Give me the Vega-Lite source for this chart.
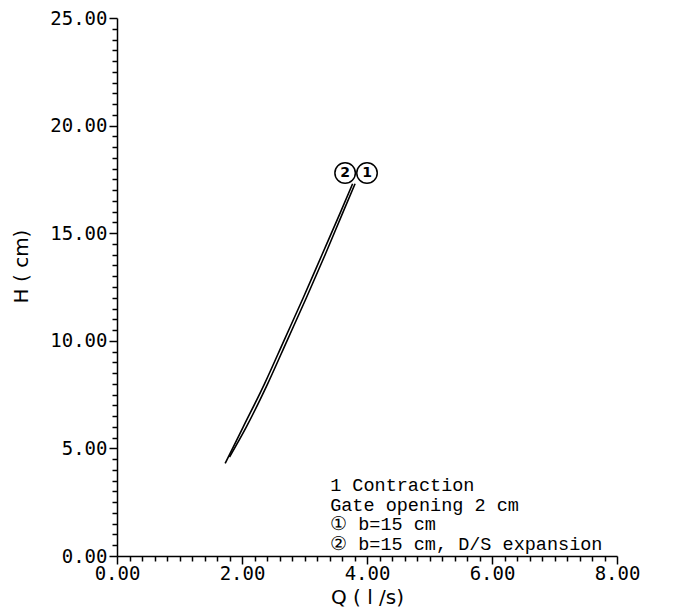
{
  "$schema": "https://vega.github.io/schema/vega-lite/v6.json",
  "width": 500,
  "height": 538,
  "autosize": {"type": "none"},
  "padding": {"left": 117, "top": 18, "right": 74, "bottom": 53},
  "background": "white",
  "config": {
    "view": {"stroke": null},
    "axis": {"grid": false, "domainColor": "black", "tickColor": "black", "labelColor": "black", "titleColor": "black", "labelFont": "DejaVu Sans Mono", "titleFont": "DejaVu Sans", "labelFontSize": 19, "titleFontSize": 20, "titleFontWeight": "normal", "domainWidth": 1.5, "tickWidth": 1.5, "tickCount": 500}
  },
  "datasets": {
    "curves": [
      {"Q": 1.80, "H": 4.6, "curve": "1"},
      {"Q": 2.07, "H": 6.0, "curve": "1"},
      {"Q": 2.41, "H": 8.0, "curve": "1"},
      {"Q": 2.72, "H": 10.0, "curve": "1"},
      {"Q": 3.03, "H": 12.0, "curve": "1"},
      {"Q": 3.33, "H": 14.0, "curve": "1"},
      {"Q": 3.62, "H": 16.0, "curve": "1"},
      {"Q": 3.81, "H": 17.3, "curve": "1"},
      {"Q": 1.73, "H": 4.3, "curve": "2"},
      {"Q": 2.02, "H": 6.0, "curve": "2"},
      {"Q": 2.36, "H": 8.0, "curve": "2"},
      {"Q": 2.67, "H": 10.0, "curve": "2"},
      {"Q": 2.98, "H": 12.0, "curve": "2"},
      {"Q": 3.28, "H": 14.0, "curve": "2"},
      {"Q": 3.58, "H": 16.0, "curve": "2"},
      {"Q": 3.77, "H": 17.3, "curve": "2"}
    ],
    "tags": [
      {"Q": 3.65, "H": 17.8, "label": "2"},
      {"Q": 4.0, "H": 17.8, "label": "1"}
    ],
    "notes": [
      {"Q": 3.41, "H": 3.28, "text": "1 Contraction"},
      {"Q": 3.41, "H": 2.38, "text": "Gate opening 2 cm"},
      {"Q": 3.41, "H": 1.48, "text": "①  b=15 cm"},
      {"Q": 3.41, "H": 0.58, "text": "②  b=15 cm, D/S expansion"}
    ]
  },
  "layer": [
    {
      "data": {"name": "curves"},
      "mark": {"type": "line", "color": "black", "strokeWidth": 1.6, "interpolate": "monotone"},
      "encoding": {
        "x": {
          "field": "Q", "type": "quantitative",
          "scale": {"domain": [0, 8], "nice": false, "zero": false},
          "axis": {
            "title": "Q ( l /s)",
            "tickCount": 500,
            "values": [0,0.2,0.4,0.6,0.8,1,1.2,1.4,1.6,1.8,2,2.2,2.4,2.6,2.8,3,3.2,3.4,3.6,3.8,4,4.2,4.4,4.6,4.8,5,5.2,5.4,5.6,5.8,6,6.2,6.4,6.6,6.8,7,7.2,7.4,7.6,7.8,8],
            "labelExpr": "abs(datum.value - round(datum.value/2)*2) < 0.01 ? format(datum.value, '.2f') : ''",
            "labelOverlap": false,
            "labelFlush": false,
            "labelPadding": 0,
            "tickSize": {"condition": {"test": "abs(datum.value - round(datum.value/2)*2) < 0.01", "value": 8}, "value": 5},
            "titlePadding": 4
          }
        },
        "y": {
          "field": "H", "type": "quantitative",
          "scale": {"domain": [0, 25], "nice": false, "zero": false},
          "axis": {
            "title": "H ( cm)",
            "tickCount": 500,
            "values": [0,0.5,1,1.5,2,2.5,3,3.5,4,4.5,5,5.5,6,6.5,7,7.5,8,8.5,9,9.5,10,10.5,11,11.5,12,12.5,13,13.5,14,14.5,15,15.5,16,16.5,17,17.5,18,18.5,19,19.5,20,20.5,21,21.5,22,22.5,23,23.5,24,24.5,25],
            "labelExpr": "abs(datum.value - round(datum.value/5)*5) < 0.01 ? format(datum.value, '.2f') : ''",
            "labelOverlap": false,
            "labelFlush": false,
            "labelPadding": 2,
            "tickSize": {"condition": {"test": "abs(datum.value - round(datum.value/5)*5) < 0.01", "value": 8}, "value": 5},
            "titleAnchor": "middle",
            "titleY": 248,
            "titleX": -86
          }
        },
        "detail": {"field": "curve"}
      }
    },
    {
      "data": {"name": "tags"},
      "mark": {"type": "point", "shape": "circle", "size": 420, "stroke": "black", "strokeWidth": 1.5, "fill": "white", "filled": false, "opacity": 1},
      "encoding": {
        "x": {"field": "Q", "type": "quantitative"},
        "y": {"field": "H", "type": "quantitative"}
      }
    },
    {
      "data": {"name": "tags"},
      "mark": {"type": "text", "font": "DejaVu Sans", "fontSize": 14, "fontWeight": "bold", "color": "black", "baseline": "middle", "align": "center"},
      "encoding": {
        "x": {"field": "Q", "type": "quantitative"},
        "y": {"field": "H", "type": "quantitative"},
        "text": {"field": "label"}
      }
    },
    {
      "data": {"name": "notes"},
      "mark": {"type": "text", "font": "Liberation Mono", "fontSize": 18.5, "color": "black", "baseline": "middle", "align": "left"},
      "encoding": {
        "x": {"field": "Q", "type": "quantitative"},
        "y": {"field": "H", "type": "quantitative"},
        "text": {"field": "text"}
      }
    }
  ]
}
